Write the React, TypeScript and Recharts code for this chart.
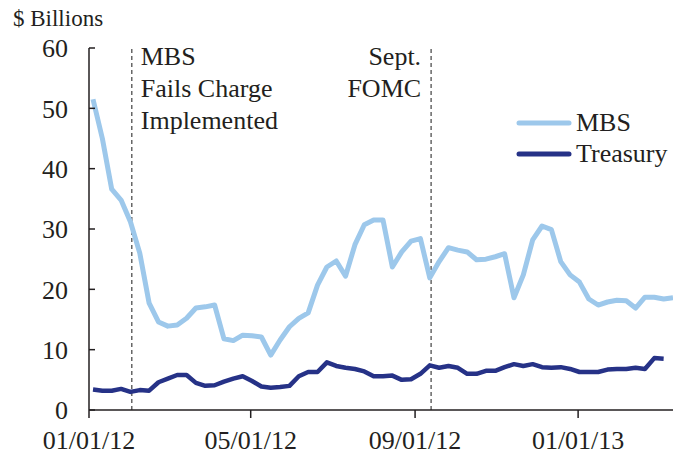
import {
	Line,
	LineChart,
	ReferenceLine,
	XAxis,
	YAxis
} from 'recharts'

// weekly readings (Wednesdays), $ billions
const MBS = [
	51.5, 45.0, 36.6, 34.8, 31.2, 26.0, 17.7, 14.6, 13.9, 14.1,
	15.2, 16.9, 17.1, 17.4, 11.8, 11.5, 12.4, 12.3, 12.1, 9.1,
	11.6, 13.8, 15.2, 16.1, 20.7, 23.7, 24.7, 22.2, 27.4, 30.7,
	31.5, 31.5, 23.7, 26.2, 28.0, 28.4, 21.9, 24.6, 26.9, 26.5,
	26.2, 24.9, 25.0, 25.4, 25.9, 18.6, 22.4, 28.2, 30.5, 29.9,
	24.6, 22.4, 21.2, 18.4, 17.4, 17.9, 18.2, 18.1, 16.9, 18.7,
	18.7, 18.4, 18.6
]

const TREASURY = [
	3.4, 3.2, 3.2, 3.5, 3.0, 3.3, 3.2, 4.6, 5.2, 5.8,
	5.8, 4.5, 4.0, 4.1, 4.7, 5.2, 5.6, 4.8, 3.9, 3.7,
	3.8, 4.0, 5.6, 6.3, 6.3, 7.9, 7.3, 7.0, 6.8, 6.4,
	5.6, 5.6, 5.7, 5.0, 5.1, 6.0, 7.4, 7.0, 7.3, 7.0,
	6.0, 6.0, 6.5, 6.5, 7.1, 7.6, 7.3, 7.6, 7.1, 7.0,
	7.1, 6.8, 6.3, 6.3, 6.3, 6.7, 6.8, 6.8, 7.0, 6.8,
	8.6, 8.5, null
]

// x axis is days since 01/01/12; first reading is Wed 01/04/12
const FIRST_DAY = 3
const X_TICKS = [0, 121, 244, 366]
const X_TICK_LABELS = ['01/01/12', '05/01/12', '09/01/12', '01/01/13']
const Y_TICKS = [0, 10, 20, 30, 40, 50, 60]

const FAILS_CHARGE_DAY = 32 // 02/02/12
const SEPT_FOMC_DAY = 256 // 09/13/12

const data = MBS.map((mbs, i) => ({
	day: FIRST_DAY + 7 * i,
	mbs,
	treasury: TREASURY[i]
}))

const SERIES = [
	{ key: 'mbs', name: 'MBS', color: '#9dc8eb', width: 5 },
	{ key: 'treasury', name: 'Treasury', color: '#263287', width: 4.5 }
]

const FONT = "'Liberation Serif', 'Times New Roman', Times, serif"
const INK = '#231f20'
const PLOT_LEFT = 89

function formatXTick(value: number): string {
	const idx = X_TICKS.indexOf(value)
	return idx >= 0 ? X_TICK_LABELS[idx] : ''
}

function YTick({ y, payload }: any) {
	return (
		<g>
			<line x1={PLOT_LEFT} x2={PLOT_LEFT + 6} y1={y} y2={y} stroke={INK} strokeWidth={1.5} />
			<text x={68} y={y} dy="0.36em" textAnchor="end" fill={INK} fontSize={26} fontFamily={FONT}>
				{payload.value}
			</text>
		</g>
	)
}

function FailsLabel({ viewBox }: any) {
	const x = viewBox.x + 9
	return (
		<text x={x} fill={INK} fontSize={26} fontFamily={FONT}>
			<tspan x={x} y={65}>MBS</tspan>
			<tspan x={x} y={97}>Fails Charge</tspan>
			<tspan x={x} y={129}>Implemented</tspan>
		</text>
	)
}

function FomcLabel({ viewBox }: any) {
	const x = viewBox.x - 10
	return (
		<text x={x} textAnchor="end" fill={INK} fontSize={26} fontFamily={FONT}>
			<tspan x={x} y={65}>Sept.</tspan>
			<tspan x={x} y={97}>FOMC</tspan>
		</text>
	)
}

export default function App() {
	return (
		<div style={{ position: 'absolute', left: 0, top: 0, width: 679, height: 456, background: '#fff' }}>
			<div
				style={{
					position: 'absolute',
					left: 13,
					top: 5,
					fontFamily: FONT,
					fontSize: 23,
					color: INK,
					lineHeight: '28px'
				}}
			>
				$ Billions
			</div>
			<div
				style={{
					position: 'absolute',
					left: 516,
					top: 107,
					fontFamily: FONT,
					fontSize: 26,
					color: INK,
					zIndex: 2
				}}
			>
				{SERIES.map((s) => (
					<div key={s.key} style={{ display: 'flex', alignItems: 'center', height: 31 }}>
						<svg width={56} height={6}>
							<line x1={3} x2={53} y1={3} y2={3} stroke={s.color} strokeWidth={5} strokeLinecap="round" />
						</svg>
						<span style={{ marginLeft: 4, lineHeight: '26px' }}>{s.name}</span>
					</div>
				))}
			</div>
			<LineChart
				width={679}
				height={456}
				data={data}
				margin={{ top: 48, right: 6, bottom: 0, left: 0 }}
			>
				<XAxis
					dataKey="day"
					type="number"
					domain={[0, 437]}
					ticks={X_TICKS}
					tickFormatter={formatXTick}
					height={46}
					tickSize={8}
					tickMargin={13}
					stroke={INK}
					strokeWidth={1.5}
					tick={{ fill: INK, fontSize: 26, fontFamily: FONT }}
					allowDataOverflow
				/>
				<YAxis
					width={89}
					domain={[0, 60]}
					ticks={Y_TICKS}
					tickLine={false}
					stroke={INK}
					strokeWidth={1.5}
					tick={<YTick />}
				/>
				<ReferenceLine
					x={FAILS_CHARGE_DAY}
					stroke="#666"
					strokeWidth={1.5}
					strokeDasharray="4 3"
					label={<FailsLabel />}
				/>
				<ReferenceLine
					x={SEPT_FOMC_DAY}
					stroke="#666"
					strokeWidth={1.5}
					strokeDasharray="4 3"
					label={<FomcLabel />}
				/>
				{SERIES.map((s) => (
					<Line
						key={s.key}
						name={s.name}
						dataKey={s.key}
						type="linear"
						stroke={s.color}
						strokeWidth={s.width}
						dot={false}
						strokeLinejoin="round"
						isAnimationActive={false}
					/>
				))}
			</LineChart>
		</div>
	)
}
